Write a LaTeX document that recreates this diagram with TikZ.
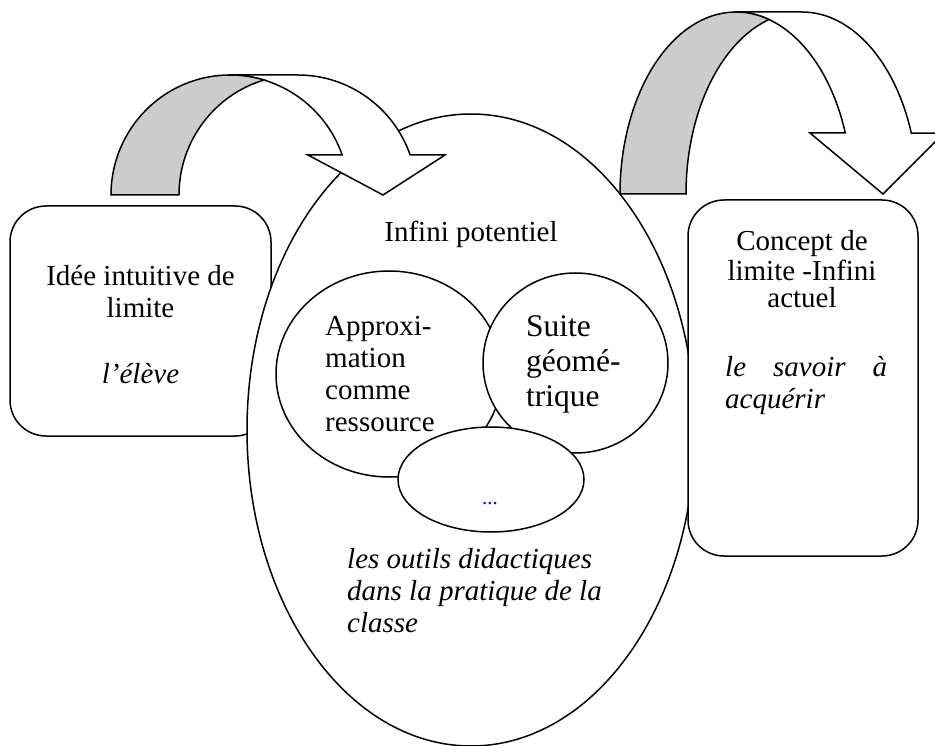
\documentclass[tikz,border=0pt]{standalone}
\usepackage{fontspec}
\setmainfont{Liberation Serif}
\usetikzlibrary{shapes.geometric}
\tikzset{
  outline/.style={draw=black, fill=white, line width=1.5pt, inner sep=0pt, outer sep=0pt},
  roundbox/.style={outline, rounded corners=36pt},
  oval/.style={outline, ellipse},
  band/.style={draw=black, fill=white, line width=1.5pt},
  backband/.style={draw=black, fill=black!20, line width=1.5pt},
  txt/.style={font=\fontsize{29}{32}\selectfont, inner sep=0pt, anchor=base},
  ltxt/.style={txt, anchor=base west},
  itxt/.style={txt, font=\fontsize{29}{32}\selectfont\itshape},
  litxt/.style={itxt, anchor=base west}
}
\begin{document}
\begin{tikzpicture}[x=1pt,y=-1pt]
\useasboundingbox (0,0) rectangle (935,746);
\clip (0,0) rectangle (935,746);
\fill[white] (0,0) rectangle (935,746);

% left box
\node[roundbox, minimum width=261pt, minimum height=230pt] (eleve) at (140.5,321) {};
% big ellipse
\node[oval, minimum width=448pt, minimum height=632pt] (classe) at (471,430) {};
% right box
\node[roundbox, minimum width=230pt, minimum height=356pt] (savoir) at (803,378) {};

% curved arrow 1
\draw[band] (230,75) -- (298,75)
  arc[start angle=90, end angle=19.5, x radius=119pt, y radius=120pt]
  -- (445,155) -- (383,195) -- (308,155) -- (342.2,155)
  arc[start angle=19.5, end angle=90, x radius=119pt, y radius=120pt] -- cycle;
\draw[backband] (111,195)
  arc[start angle=180, end angle=73.4, x radius=119pt, y radius=120pt]
  arc[start angle=106.6, end angle=180, x radius=119pt, y radius=120pt] -- cycle;

% curved arrow 2
\draw[band] (736,12) -- (802,12)
  arc[start angle=90, end angle=19.58, x radius=116pt, y radius=182pt]
  -- (944,133) -- (883,194) -- (810,133) -- (845.3,133)
  arc[start angle=19.58, end angle=90, x radius=116pt, y radius=182pt] -- cycle;
\draw[backband] (620,194)
  arc[start angle=180, end angle=73.47, x radius=116pt, y radius=182pt]
  arc[start angle=106.53, end angle=180, x radius=116pt, y radius=182pt] -- cycle;

% inner shapes
\node[oval, minimum width=226pt, minimum height=206pt] (approx) at (389,374) {};
\node[oval, minimum width=185pt, minimum height=180pt] (suite) at (575.5,363) {};
\node[oval, minimum width=186pt, minimum height=105pt] (autre) at (491,479.5) {};

% texts: left box
\node[txt] (t1) at (140.5,286) {Idée intuitive de};
\node[txt] (t2) at (140.5,318) {limite};
\node[itxt] (t3) at (140.5,383) {l’élève};

% texts: big ellipse
\node[txt] (t4) at (471,242) {Infini potentiel};
\node[ltxt] (a1) at (325,335) {Approxi-};
\node[ltxt] (a2) at (325,367) {mation};
\node[ltxt] (a3) at (325,399) {comme};
\node[ltxt] (a4) at (325,431) {ressource};
\node[ltxt, font=\fontsize{31.5}{35}\selectfont] (s1) at (526,336) {Suite};
\node[ltxt, font=\fontsize{31.5}{35}\selectfont] (s2) at (526,371) {géomé-};
\node[ltxt, font=\fontsize{31.5}{35}\selectfont] (s3) at (526,406) {trique};
\node[txt, font=\fontsize{21}{24}\selectfont, text=blue] (dots) at (490,504) {...};
\node[litxt] (o1) at (347,568) {les outils didactiques};
\node[litxt] (o2) at (347,600) {dans la pratique de la};
\node[litxt] (o3) at (347,632) {classe};

% texts: right box
\node[txt] (c1) at (802,251) {Concept de};
\node[txt] (c2) at (802,280) {limite -Infini};
\node[txt] (c3) at (802,308) {actuel};
\node[litxt] (c4) at (725,376) {\makebox[162pt][s]{le savoir à}};
\node[litxt] (c5) at (725,408) {acquérir};
\end{tikzpicture}
\end{document}
